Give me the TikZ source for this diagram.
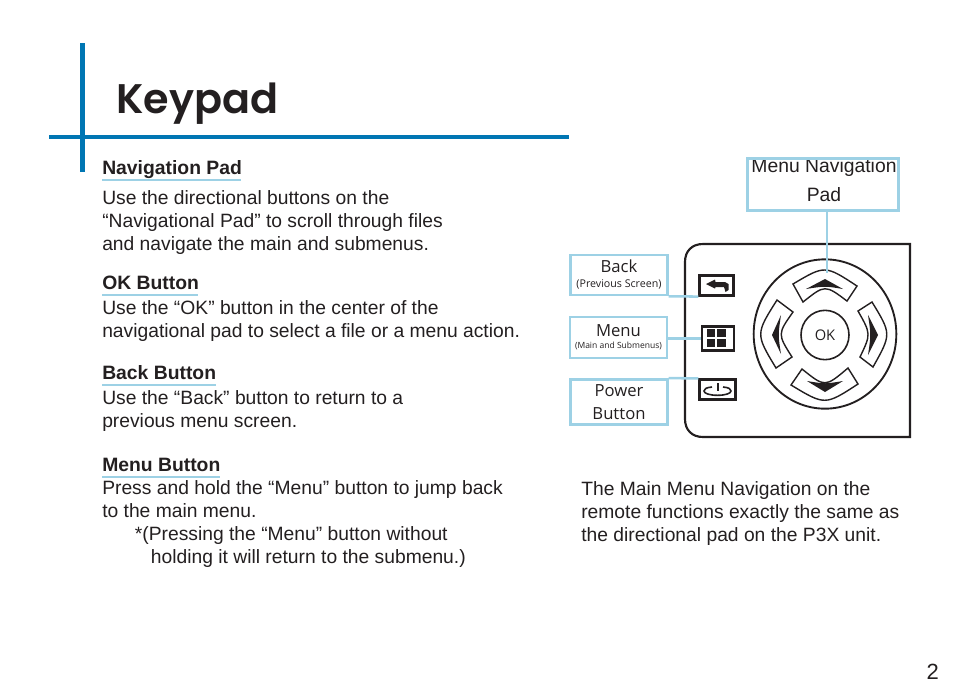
\documentclass[tikz,border=0pt]{standalone}
\usepackage{fontspec}
\setmainfont{Liberation Sans}
\newfontfamily\titlefont{Poppins}[BoldFont={Poppins SemiBold}]
\newfontfamily\lblfont{Open Sans}
\usetikzlibrary{positioning,shapes.geometric}
\definecolor{rulecol}{HTML}{0076B3}
\definecolor{lightcol}{HTML}{9DD1E5}
\definecolor{inkcol}{HTML}{231F20}
\tikzset{
	hdr/.style={anchor=base west,inner sep=0pt,font=\bfseries\fontsize{14.5}{17.25}\selectfont},
	para/.style={anchor=north west,inner sep=0pt,align=left,font=\fontsize{14.45}{17.25}\selectfont},
	lblbox/.style={draw=lightcol,line width=1.9pt,inner sep=0pt,align=center,font=\lblfont\fontsize{12.5}{17.25}\selectfont},
	lead/.style={draw=lightcol,line width=1.9pt},
	uline/.style={draw=lightcol,line width=1.5pt},
	key/.style={draw=inkcol,line width=2.1pt,inner sep=0pt},
	padkey/.style={draw=inkcol,line width=1.05pt,fill=white},
	tip/.style={fill=inkcol}
}
\newcommand{\smalltxt}{\fontsize{8}{9}\selectfont}
\begin{document}
\begin{tikzpicture}[x=0.75pt,y=-0.75pt,text=inkcol]
	\useasboundingbox (0,0) rectangle (954,694);
	% title and rules
	\fill[rulecol] (80,43) rectangle (85,172);
	\fill[rulecol] (49,135) rectangle (569,139);
	\node[anchor=base west,inner sep=0pt,font=\titlefont\bfseries\fontsize{31}{36}\selectfont] (title) at (116,113) {Keypad};
	% left column
	\node[hdr] (navhdr) at (102,174) {Navigation Pad};
	\node[para] (navtxt) at (102,190) {Use the directional buttons on the\\``Navigational Pad'' to scroll through files\\and navigate the main and submenus.};
	\node[hdr] (okhdr) at (102,289) {OK Button};
	\node[para] (oktxt) at (102,300) {Use the ``OK'' button in the center of the\\navigational pad to select a file or a menu action.};
	\node[hdr] (backhdr) at (102,379) {Back Button};
	\node[para] (backtxt) at (102,390) {Use the ``Back'' button to return to a\\previous menu screen.};
	\node[hdr] (menuhdr) at (102,471) {Menu Button};
	\node[para] (menutxt) at (102,480) {Press and hold the ``Menu'' button to jump back\\to the main menu.\\\hspace*{24.5pt}*(Pressing the ``Menu'' button without\\\hspace*{36.5pt}holding it will return to the submenu.)};
	\foreach \h in {navhdr,okhdr,backhdr,menuhdr}
		\draw[uline] ([yshift=-4.4pt]\h.base west) -- ([yshift=-4.4pt,xshift=-0.6pt]\h.base east);
	\node[para] (maintxt) at (581,481) {The Main Menu Navigation on the\\remote functions exactly the same as\\the directional pad on the P3X unit.};
	\node[anchor=base east,inner sep=0pt,font=\fontsize{16.5}{20}\selectfont] (pagenum) at (939,679) {2};
	% remote body
	\draw[inkcol,line width=1.6pt] (910,244) -- (703,244) .. controls (692,244) and (685,251) .. (685,262) -- (685,419) .. controls (685,430) and (692,437) .. (703,437) -- (910,437) -- cycle;
	\node[draw=inkcol,line width=1.4pt,ellipse,inner sep=0pt,minimum width=107pt,minimum height=112pt] (pad) at (825,334) {};
	\node[draw=inkcol,line width=1.2pt,ellipse,inner sep=0pt,minimum width=36pt,minimum height=37pt,font=\lblfont\fontsize{11}{13}\selectfont] (ok) at (825,335) {OK};
	% direction keys
	\draw[padkey] (793,284) .. controls (825,265) .. (857,286) -- (847,301) .. controls (825,284.5) .. (803,302) -- cycle;
	\fill[tip] (806,289) -- (825,279) -- (843,289) .. controls (825,286) .. cycle;
	\draw[padkey] (791,385) .. controls (825,405.5) .. (858,384) -- (848,368) .. controls (825,387.5) .. (802,369) -- cycle;
	\fill[tip] (807,381) -- (825,392) -- (843,381) .. controls (825,384) .. cycle;
	\draw[padkey] (777,300) .. controls (755.5,334) .. (776,368) -- (792,357) .. controls (777.5,334) .. (793,312) -- cycle;
	\fill[tip] (781,315) -- (772,335) -- (781,354) .. controls (778,335) .. cycle;
	\draw[padkey] (872,302) .. controls (891.5,334) .. (873,367) -- (860,357) .. controls (871,334) .. (858,311) -- cycle;
	\fill[tip] (868,315) -- (878,335) -- (868,355) .. controls (871,335) .. cycle;
	% side keys
	\node[key,minimum width=25pt,minimum height=14.5pt] (backkey) at (716.5,285.5) {};
	\fill[tip] (706,284) -- (715,279.5) -- (715.5,282) -- (725,282) -- (728.5,284) -- (728.5,290) -- (725.5,292) -- (724,287) -- (715.5,287) -- (715,288.5) -- cycle;
	\node[key,minimum width=24pt,minimum height=17.5pt] (menukey) at (718,338.5) {};
	\fill[tip] (706.5,329) rectangle (725.5,347);
	\draw[white,line width=1pt] (716,329) -- (716,347) (706.5,338) -- (725.5,338);
	\node[key,minimum width=26.5pt,minimum height=14.5pt] (powerkey) at (717.5,389.5) {};
	\draw[inkcol,line width=1.2pt] (712,387) .. controls (706,387.5) and (704,389) .. (704,391) .. controls (704,393.5) and (710,395.3) .. (717.5,395.3) .. controls (725,395.3) and (731,393.5) .. (731,391) .. controls (731,389) and (729,387.5) .. (723,387);
	\draw[inkcol,line width=1.5pt] (717.5,383) -- (717.5,391);
	% label boxes
	\begin{scope}
		\clip (740,159) rectangle (905,215);
		\node[inner sep=0pt,align=center,font=\fontsize{14.5}{21.75}\selectfont] (navlbl) at (824,180) {Menu Navigation\\Pad};
	\end{scope}
	\node[lblbox,minimum width=113pt,minimum height=39pt] (navbox) at (823,184.5) {};
	\node[lblbox,minimum width=72.5pt,minimum height=30pt] (backbox) at (619,275) {Back\\[-6pt]{\smalltxt (Previous Screen)}};
	\node[lblbox,minimum width=73pt,minimum height=31pt] (menubox) at (618.5,337.5) {Menu\\[-8pt]{\fontsize{6.4}{9}\selectfont (Main and Submenus)}};
	\node[lblbox,minimum width=72.5pt,minimum height=34pt] (powerbox) at (619,402) {Power\\Button};
	% leaders
	\coordinate (padtop) at (827,273);
	\draw[lead] (navbox.south -| padtop) -- (padtop);
	\draw[lead] (backbox.south east) -- (backkey.south west);
	\draw[lead] (menubox.east |- menukey.west) -- (menukey.west);
	\draw[lead] (powerbox.north east) -- (powerkey.north west);
\end{tikzpicture}
\end{document}
